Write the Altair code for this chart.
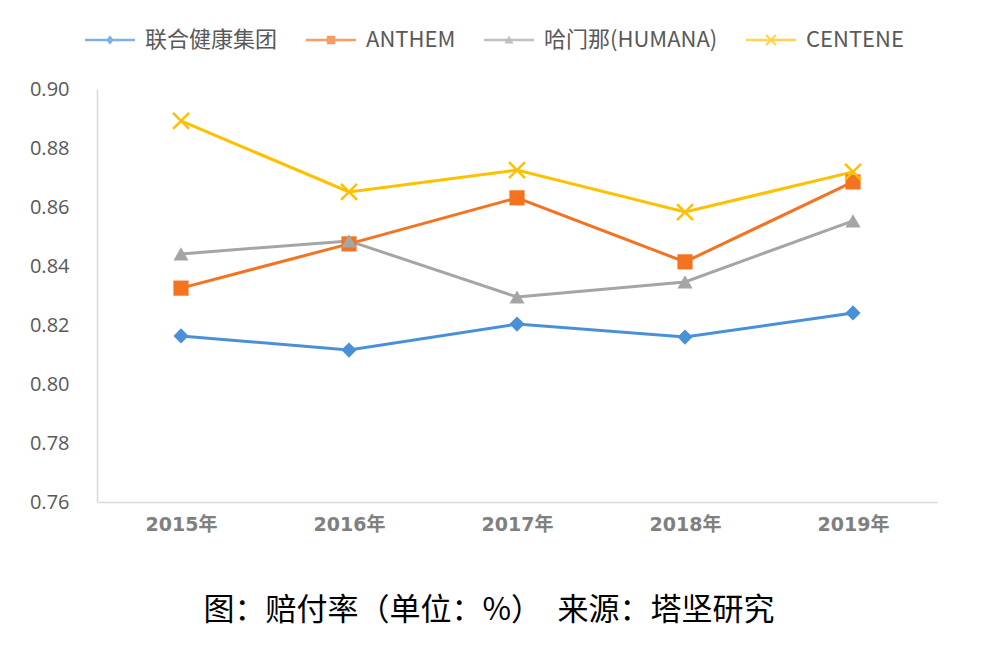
import altair as alt
import pandas as pd

years = ["2015年", "2016年", "2017年", "2018年", "2019年"]
series = ["联合健康集团", "ANTHEM", "哈门那(HUMANA)", "CENTENE"]
unh = [0.8163, 0.8115, 0.8203, 0.8159, 0.8241]
anthem = [0.8325, 0.8475, 0.8631, 0.8414, 0.8685]
humana = [0.8441, 0.8485, 0.8295, 0.8346, 0.8553]
centene = [0.8892, 0.8651, 0.8725, 0.8583, 0.8719]
y_ticks = [0.76, 0.78, 0.80, 0.82, 0.84, 0.86, 0.88, 0.90]
colors = ["#4A90D9", "#F47321", "#A5A5A5", "#FFC000"]

rows = []
for name, vals in zip(series, [unh, anthem, humana, centene]):
    for yr, v in zip(years, vals):
        rows.append({"year": yr, "series": name, "value": v})
df = pd.DataFrame(rows)

FONT = "Noto Sans CJK SC"

x_enc = alt.X(
    "year:N", sort=years, title=None,
    scale=alt.Scale(type="point", padding=0.5),
    axis=alt.Axis(labelAngle=0, ticks=False, domainColor="#D9D9D9", domainWidth=1.5,
                  labelFont="DejaVu Sans, Noto Sans CJK SC", labelFontSize=19,
                  labelFontWeight="bold", labelColor="#808080", labelPadding=13, grid=False),
)
y_enc = alt.Y(
    "value:Q", title=None,
    scale=alt.Scale(domain=[0.76, 0.90], nice=False, zero=False),
    axis=alt.Axis(values=y_ticks, format=".2f", grid=False, ticks=False,
                  domainColor="#D9D9D9", domainWidth=1.5, labelFont="Open Sans",
                  labelFontSize=20, labelColor="#595959", labelPadding=28),
)

color_scale = alt.Scale(domain=series, range=colors)

base = alt.Chart(df)

lines = base.mark_line(strokeWidth=3).encode(
    x=x_enc, y=y_enc,
    color=alt.Color("series:N", scale=color_scale, legend=None),
)

filled_pts = base.transform_filter(
    alt.datum.series != "CENTENE"
).mark_point(filled=True, size=230, opacity=1).encode(
    x=x_enc, y=y_enc,
    color=alt.Color("series:N", scale=color_scale, legend=None),
    shape=alt.Shape("series:N", scale=alt.Scale(domain=series[:3], range=["diamond", "square", "triangle-up"]), legend=None),
)

x_pts = base.transform_filter(
    alt.datum.series == "CENTENE"
).mark_point(filled=False, size=256, strokeWidth=2.5, opacity=1,
             shape="M-1,-1L1,1M1,-1L-1,1").encode(
    x=x_enc, y=y_enc,
    color=alt.Color("series:N", scale=color_scale, legend=None),
)

legend_paths = [
    "M-1,-0.05L1,-0.05L1,0.05L-1,0.05Z M0,-0.19L0.15,0L0,0.19L-0.15,0Z",
    "M-1,-0.05L1,-0.05L1,0.05L-1,0.05Z M-0.17,-0.17L0.17,-0.17L0.17,0.17L-0.17,0.17Z",
    "M-1,-0.05L1,-0.05L1,0.05L-1,0.05Z M0,-0.18L0.18,0.14L-0.18,0.14Z",
    "M-1,-0.05L1,-0.05L1,0.05L-1,0.05Z M-0.17,-0.23L0.23,0.17L0.17,0.23L-0.23,-0.17Z M0.23,-0.17L-0.17,0.23L-0.23,0.17L0.17,-0.23Z",
]

legend_layer = base.transform_filter("false").mark_point(filled=True, size=2500).encode(
    x=x_enc, y=y_enc,
    color=alt.Color("series:N", scale=color_scale, title=None,
                    legend=alt.Legend(orient="none", legendX=-12, legendY=-74,
                                      direction="horizontal", columns=4,
                                      symbolSize=2500, symbolStrokeWidth=0,
                                      labelFont=FONT, labelFontSize=22, labelLimit=400,
                                      labelColor="#595959", labelOffset=10,
                                      columnPadding=28, padding=0)),
    shape=alt.Shape("series:N", scale=alt.Scale(domain=series, range=legend_paths), title=None),
)

chart = alt.layer(lines, filled_pts, x_pts, legend_layer).resolve_scale(
    shape="independent", color="independent"
).properties(
    width=840, height=413,
    autosize=alt.AutoSizeParams(type="none"),
    padding={"left": 89, "top": 81, "right": 37, "bottom": 151},
    title=alt.TitleParams(
        text="图：赔付率（单位：%）\u3000来源：塔坚研究",
        orient="bottom", font=FONT, fontSize=31, fontWeight="normal",
        color="#000000", offset=62, dx=-28, anchor="middle",
    ),
).configure_view(stroke=None)

chart.save("out.html", embed_options={"renderer": "svg", "actions": False})
